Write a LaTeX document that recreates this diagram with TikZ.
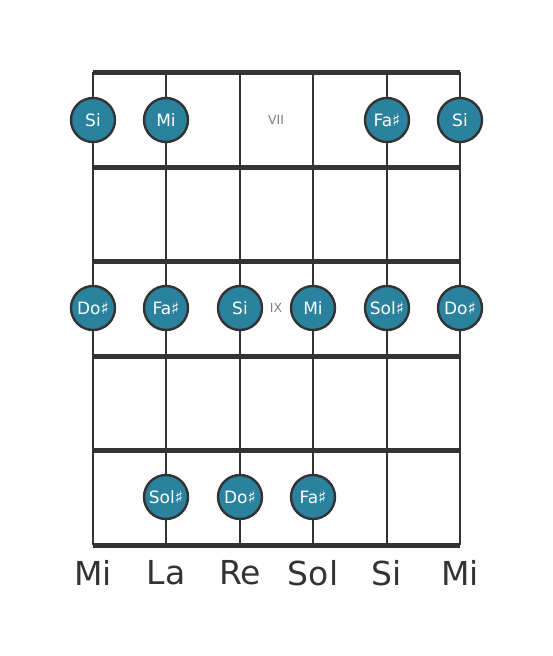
\documentclass[tikz,border=0pt]{standalone}
\usepackage{fontspec}
\setmainfont{DejaVu Sans}
\usetikzlibrary{positioning}
\definecolor{dotblue}{RGB}{42,130,158}
\definecolor{linegray}{RGB}{51,51,51}
\begin{document}
\begin{tikzpicture}[x=1pt,y=-1pt]
		\tikzstyle{Dot} = [circle, minimum size=44pt, inner sep=0pt, text centered, draw=linegray, line width=2.4pt, fill=dotblue, text=white, font=\fontsize{17}{17}\selectfont]
		\tikzstyle{Fret} = [draw=linegray, line width=5pt]
		\tikzstyle{String} = [draw=linegray, line width=2.8pt]
		\tikzstyle{FretNum} = [text=gray, font=\fontsize{12.5}{12.5}\selectfont]
		\tikzstyle{Tuning} = [text=linegray, font=\fontsize{33}{33}\selectfont]
		
		\useasboundingbox (0,0) rectangle (553,656);
		\foreach \y in {72,167,261,356,450,545} \draw[Fret] (93,\y) -- (460,\y);
		\foreach \x in {93,166,240,313,387,460} \draw[String] (\x,72) -- (\x,545);
		
		\node (vii) [FretNum] at (276,120) {VII};
		\node (ix) [FretNum] at (276,308) {IX};
		
		\node (s1a) [Dot] at (93,120) {Si};
		\node (s2a) [Dot] at (166,120) {Mi};
		\node (s5a) [Dot] at (387,120) {Fa♯};
		\node (s6a) [Dot] at (460,120) {Si};
		
		\node (s1b) [Dot] at (93,308) {Do♯};
		\node (s2b) [Dot] at (166,308) {Fa♯};
		\node (s3b) [Dot] at (240,308) {Si};
		\node (s4b) [Dot] at (313,308) {Mi};
		\node (s5b) [Dot] at (387,308) {Sol♯};
		\node (s6b) [Dot] at (460,308) {Do♯};
		
		\node (s2c) [Dot] at (166,497) {Sol♯};
		\node (s3c) [Dot] at (240,497) {Do♯};
		\node (s4c) [Dot] at (313,497) {Fa♯};
		
		\node (t1) [Tuning] at (93,573) {Mi};
		\node (t2) [Tuning] at (166,573) {La};
		\node (t3) [Tuning] at (240,573) {Re};
		\node (t4) [Tuning] at (313,573) {Sol};
		\node (t5) [Tuning] at (387,573) {Si};
		\node (t6) [Tuning] at (460,573) {Mi};
		\end{tikzpicture}
\end{document}
